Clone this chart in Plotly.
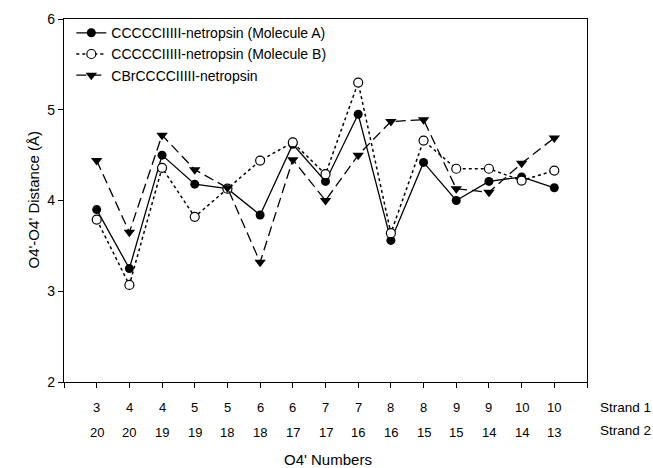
import plotly.graph_objects as go

positions = list(range(1, 16))
strand1 = ["3", "4", "4", "5", "5", "6", "6", "7", "7", "8", "8", "9", "9", "10", "10"]
strand2 = ["20", "20", "19", "19", "18", "18", "17", "17", "16", "16", "15", "15", "14", "14", "13"]

mol_a = [3.90, 3.25, 4.50, 4.18, 4.13, 3.84, 4.62, 4.21, 4.95, 3.56, 4.42, 4.00, 4.21, 4.26, 4.14]
mol_b = [3.79, 3.07, 4.36, 3.82, 4.13, 4.44, 4.64, 4.29, 5.30, 3.64, 4.66, 4.35, 4.35, 4.22, 4.33]
cbr = [4.44, 3.65, 4.72, 4.34, 4.14, 3.32, 4.45, 4.00, 4.50, 4.87, 4.89, 4.13, 4.09, 4.41, 4.69]

names = ["CCCCCIIIII-netropsin (Molecule A)",
         "CCCCCIIIII-netropsin (Molecule B)",
         "CBrCCCCIIIII-netropsin"]

FONT = "Liberation Sans, Arial, sans-serif"

fig = go.Figure()
fig.add_trace(go.Scatter(
    x=positions, y=mol_a, name=names[0], mode="lines+markers",
    line=dict(color="black", width=1.3, dash="solid"),
    marker=dict(symbol="circle", size=9, color="black")))
fig.add_trace(go.Scatter(
    x=positions, y=mol_b, name=names[1], mode="lines+markers",
    line=dict(color="black", width=1.5, dash="dot"),
    marker=dict(symbol="circle", size=9, color="white", line=dict(color="black", width=1.2))))
fig.add_trace(go.Scatter(
    x=positions, y=cbr, name=names[2], mode="lines+markers",
    line=dict(color="black", width=1.3, dash="10px,5px"),
    marker=dict(symbol="triangle-down", size=10, color="black")))

annotations = []
for p, s1, s2 in zip(positions, strand1, strand2):
    annotations.append(dict(x=p, y=0, xref="x", yref="paper", text=s1, showarrow=False,
                            yshift=-25, yanchor="middle", xanchor="center",
                            font=dict(size=13, family=FONT, color="black")))
    annotations.append(dict(x=p, y=0, xref="x", yref="paper", text=s2, showarrow=False,
                            yshift=-50, yanchor="middle", xanchor="center",
                            font=dict(size=13, family=FONT, color="black")))
annotations.append(dict(x=1.0216, y=0, xref="paper", yref="paper", text="Strand 1", showarrow=False,
                        yshift=-25, yanchor="middle", xanchor="left",
                        font=dict(size=13.5, family=FONT, color="black")))
annotations.append(dict(x=1.0216, y=0, xref="paper", yref="paper", text="Strand 2", showarrow=False,
                        yshift=-48, yanchor="middle", xanchor="left",
                        font=dict(size=13.5, family=FONT, color="black")))
annotations.append(dict(x=0.505, y=0, xref="paper", yref="paper", text="O4' Numbers", showarrow=False,
                        yshift=-77, yanchor="middle", xanchor="center",
                        font=dict(size=15, family=FONT, color="black")))
annotations.append(dict(x=0, y=0.5, xref="paper", yref="paper", text="O4'-O4' Distance (Å)",
                        showarrow=False, xshift=-31, yanchor="middle", xanchor="center",
                        textangle=-90, font=dict(size=15, family=FONT, color="black")))

fig.update_layout(
    width=653, height=468,
    margin=dict(l=64, r=66, t=19, b=86, autoexpand=False),
    paper_bgcolor="white", plot_bgcolor="white",
    font=dict(family=FONT, color="black", size=13),
    showlegend=True,
    legend=dict(x=0.014, y=1.005, xanchor="left", yanchor="top",
                bgcolor="rgba(0,0,0,0)", borderwidth=0,
                font=dict(size=14, family=FONT, color="black"),
                tracegroupgap=0, itemwidth=30),
    annotations=annotations,
    xaxis=dict(range=[0, 16], tickvals=list(range(0, 17)), showticklabels=False,
               ticks="outside", ticklen=5, tickcolor="black", tickwidth=1,
               showline=True, linecolor="black", linewidth=1.2, mirror=True,
               showgrid=False, zeroline=False, fixedrange=True, automargin=False),
    yaxis=dict(range=[2, 6], tickvals=[2, 3, 4, 5, 6], ticks="outside", ticklen=5,
               tickcolor="black", tickwidth=1,
               tickfont=dict(size=14, family=FONT, color="black"),
               showline=True, linecolor="black", linewidth=1.2, mirror=True,
               showgrid=False, zeroline=False, fixedrange=True, automargin=False),
)

fig.write_html(
    "out.html",
    config={"displayModeBar": False},
    post_script="document.body.style.margin='0';document.body.style.overflow='hidden';",
)
